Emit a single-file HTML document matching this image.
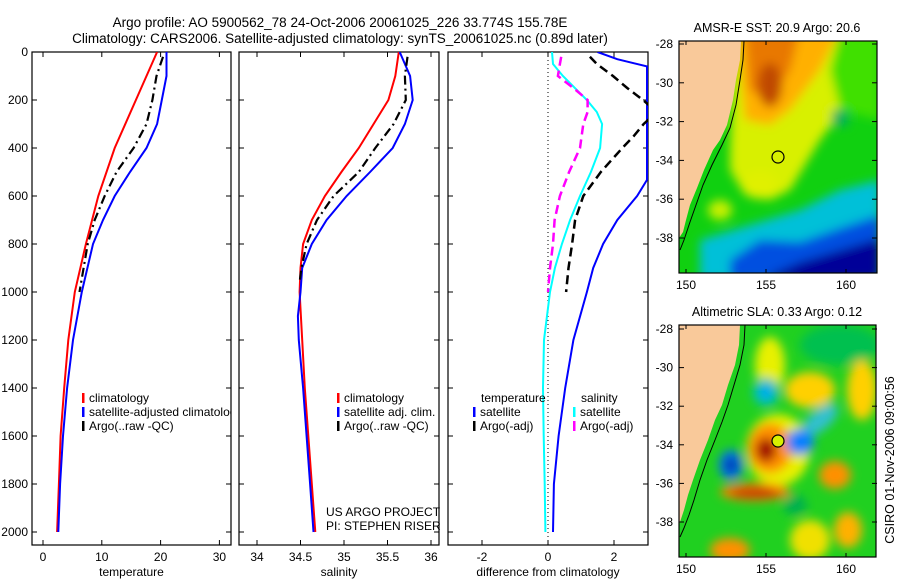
<!DOCTYPE html>
<html><head><meta charset="utf-8"><style>
html,body{margin:0;padding:0;background:#fff;}
svg{display:block;font-family:"Liberation Sans",sans-serif;}
</style></head><body>
<svg id="fig" width="900" height="580" viewBox="0 0 900 580" xmlns="http://www.w3.org/2000/svg">
<defs>
<clipPath id="c1"><rect x="32" y="52" width="199" height="493"/></clipPath>
<clipPath id="c2"><rect x="239" y="52" width="200" height="493"/></clipPath>
<clipPath id="c3"><rect x="448" y="52" width="200" height="493"/></clipPath>
<clipPath id="m1"><rect x="679" y="41" width="198" height="232"/></clipPath>
<clipPath id="m2"><rect x="679" y="325" width="197" height="232"/></clipPath>
<filter id="bl" x="-20%" y="-20%" width="140%" height="140%"><feGaussianBlur stdDeviation="5"/></filter>
</defs>
<text x="340" y="27" font-size="13.5" text-anchor="middle">Argo profile: AO 5900562_78 24-Oct-2006 20061025_226 33.774S 155.78E</text>
<text x="340" y="43" font-size="13.5" text-anchor="middle">Climatology: CARS2006. Satellite-adjusted climatology: synTS_20061025.nc (0.89d later)</text>

<!-- Map 1 -->
<g>
<g clip-path="url(#m1)">
<rect x="679" y="41" width="198" height="232" fill="#10d010"/>
<g filter="url(#bl)">
<polygon points="735,30 880,30 880,60 850,100 820,140 790,190 770,200 745,195 730,170 730,150" fill="#d8f000"/>
<polygon points="735,30 840,30 820,70 790,110 770,125 745,120" fill="#ffb000"/>
<polygon points="745,30 800,30 790,70 770,100 750,90" fill="#e87800"/>
<ellipse cx="770" cy="85" rx="12" ry="22" fill="#c04800"/>
<polygon points="840,30 880,30 880,120 840,110 830,70" fill="#40e000"/>
<ellipse cx="760" cy="185" rx="18" ry="14" fill="#e0f000"/>
<ellipse cx="720" cy="210" rx="12" ry="10" fill="#c8f000"/>
<polygon points="700,240 760,222 800,210 840,190 880,180 880,280 700,280" fill="#00c0d8"/>
<polygon points="730,260 760,240 800,242 840,228 880,215 880,280 730,280" fill="#0050e0"/>
<polygon points="770,275 800,262 840,250 880,238 880,280 770,280" fill="#000098"/>
<rect x="832" y="110" width="16" height="16" fill="#00b060"/>
</g>
</g>
<polygon points="679,41 741,41 740,60 736,80 733,100 727,125 720,140 713,150 704,170 697,188 690,205 686,220 683,232 679,238" fill="#f9c99a" clip-path="url(#m1)"/>
<polyline points="744,41 743,60 740,80 736,105 730,128 722,145 712,165 703,185 696,205 690,222 684,240 680,250" fill="none" stroke="#000" stroke-width="1" clip-path="url(#m1)"/>
<circle cx="778" cy="157" r="6" fill="none" stroke="#000" stroke-width="1.2"/>
<rect x="679" y="41" width="198" height="232" fill="none" stroke="#000" stroke-width="1.2"/>
<text x="777" y="32" font-size="12.5" text-anchor="middle">AMSR-E SST: 20.9 Argo: 20.6</text>
</g>

<!-- Map 2 -->
<g>
<g clip-path="url(#m2)">
<rect x="679" y="325" width="197" height="232" fill="#20d020"/>
<g filter="url(#bl)">
<ellipse cx="840" cy="345" rx="40" ry="20" fill="#00c050"/>
<ellipse cx="770" cy="365" rx="15" ry="28" fill="#e8f000"/>
<ellipse cx="810" cy="390" rx="25" ry="18" fill="#ffd000"/>
<ellipse cx="862" cy="390" rx="15" ry="30" fill="#ffd000"/>
<ellipse cx="778" cy="450" rx="32" ry="36" fill="#e8f000"/>
<ellipse cx="770" cy="448" rx="22" ry="25" fill="#ff9000"/>
<ellipse cx="766" cy="450" rx="10" ry="12" fill="#a00000"/>
<ellipse cx="766" cy="392" rx="13" ry="14" fill="#00c0c0"/>
<ellipse cx="766" cy="392" rx="5" ry="6" fill="#00a0ff"/>
<ellipse cx="820" cy="420" rx="22" ry="10" fill="#30c0d0" transform="rotate(-40 820 420)"/>
<ellipse cx="800" cy="442" rx="14" ry="13" fill="#0080ff"/>
<ellipse cx="731" cy="465" rx="12" ry="15" fill="#0070f0"/>
<ellipse cx="731" cy="465" rx="5" ry="7" fill="#002090"/>
<ellipse cx="755" cy="492" rx="35" ry="9" fill="#ff8000"/>
<ellipse cx="755" cy="493" rx="25" ry="5" fill="#c03000"/>
<ellipse cx="835" cy="475" rx="16" ry="14" fill="#ff9000"/>
<ellipse cx="810" cy="540" rx="20" ry="20" fill="#f0e000"/>
<ellipse cx="848" cy="530" rx="14" ry="18" fill="#ffb000"/>
<ellipse cx="730" cy="550" rx="20" ry="12" fill="#ff9000"/>
<ellipse cx="795" cy="505" rx="12" ry="10" fill="#00b050"/>
</g>
</g>
<polygon points="679,325 740,325 739,345 735,365 728,385 722,405 715,420 708,440 700,460 693,480 688,495 684,510 679,525" fill="#f9c99a" clip-path="url(#m2)"/>
<polyline points="745,325 744,345 740,365 734,385 728,405 722,422 715,440 707,460 700,480 694,500 689,515 684,528 680,537" fill="none" stroke="#000" stroke-width="1" clip-path="url(#m2)"/>
<circle cx="778" cy="441" r="6" fill="#d8f000" stroke="#000" stroke-width="1.2"/>
<rect x="679" y="325" width="197" height="232" fill="none" stroke="#000" stroke-width="1.2"/>
<text x="777" y="316" font-size="12.5" text-anchor="middle">Altimetric SLA: 0.33 Argo: 0.12</text>
</g>
<text transform="translate(894 460) rotate(-90)" font-size="12.5" text-anchor="middle">CSIRO 01-Nov-2006 09:00:56</text>
<g id="axes"></g>
</svg>
<script>
// ---- data ----
var depthTicks = [0,200,400,600,800,1000,1200,1400,1600,1800,2000];
var tempTicks = [0,10,20,30];
var salTicks = [34,34.5,35,35.5,36];
var salTickLabels = ["34","34.5","35","35.5","36"];
var diffTicks = [-2,0,2];
var latTicks = [-28,-30,-32,-34,-36,-38];
var lonTicks = [150,155,160];

var tClimDepth = [0,50,200,400,600,800,1000,1200,1400,1600,1800,2000];
var tClimVal   = [19.4,18.5,15.8,12.2,9.4,7.3,5.4,4.3,3.6,3.0,2.7,2.4];
var tSatDepth  = [0,100,200,300,400,500,600,700,800,1000,1200,1400,1600,1800,2000];
var tSatVal    = [21.0,21.0,20.2,19.4,17.6,14.8,12.2,10.2,8.5,6.6,5.1,4.1,3.4,2.9,2.6];
var tArgoDepth = [20,100,200,300,400,500,600,700,800,900,1000];
var tArgoVal   = [20.4,19.3,18.6,17.6,15.4,12.5,10.5,8.8,7.6,6.9,6.2];

var sClimDepth = [0,100,200,300,400,500,600,700,800,900,1000,1200,1400,1600,1800,2000];
var sClimVal   = [35.63,35.59,35.51,35.34,35.17,34.97,34.78,34.63,34.53,34.50,34.49,34.52,34.55,34.59,34.63,34.67];
var sSatDepth  = [0,100,200,300,400,500,600,700,800,900,1000,1100,1200,1400,1600,1800,2000];
var sSatVal    = [35.64,35.76,35.79,35.70,35.56,35.30,35.03,34.80,34.63,34.52,34.50,34.47,34.48,34.53,34.57,34.61,34.65];
var sArgoDepth = [20,100,200,300,400,500,600,700,800,900,960];
var sArgoVal   = [35.73,35.70,35.71,35.57,35.36,35.17,34.88,34.69,34.57,34.51,34.49];

var dTSatDepth = [0,30,60,533,600,700,800,900,1000,1200,1400,1600,1800,2000];
var dTSatVal   = [1.5,2.1,3.0,3.0,2.7,2.1,1.67,1.37,1.18,0.77,0.52,0.32,0.18,0.15];
var dTArgoDepth = [20,50,100,150,200,250,300,350,400,500,600,700,800,900,1000];
var dTArgoVal   = [1.27,1.48,1.97,2.4,2.88,3.3,2.9,2.6,2.25,1.6,1.07,0.82,0.73,0.62,0.55];
var dSSatDepth = [0,50,100,200,250,300,400,500,600,700,800,900,1000,1200,1400,1600,1800,2000];
var dSSatVal   = [0.12,0.15,0.45,1.18,1.48,1.64,1.58,1.3,0.97,0.67,0.42,0.21,0.06,-0.12,-0.15,-0.13,-0.1,-0.08];
var dSArgoDepth = [20,50,100,150,200,250,300,400,500,600,700,800,900,1000];
var dSArgoVal   = [0.4,0.36,0.3,0.77,1.2,1.2,1.07,0.97,0.64,0.36,0.2,0.15,0.06,0.0];

// ---- scales ----
function yD(d){return 52 + d*0.24;}
function xT(v){return 43 + v*5.88;}
function xS(v){return 257 + (v-34)*87;}
function xDf(v){return 548 + v*33;}
function yLat(l){return 44 + (-28 - l)*19.4;}
function yLat2(l){return 329 + (-28 - l)*19.3;}
function xLon(l){return 686 + (l-150)*16;}

var NS="http://www.w3.org/2000/svg";
var root=document.getElementById('axes');
function mk(tag,attrs,parent){var e=document.createElementNS(NS,tag);for(var k in attrs)e.setAttribute(k,attrs[k]);(parent||root).appendChild(e);return e;}
function txt(x,y,s,anchor,size){var t=mk('text',{x:x,y:y,'font-size':size||12,'text-anchor':anchor||'middle'});t.textContent=s;return t;}

function panel(x0,x1,name,xs,ticks,labels,title){
  var r=mk('rect',{x:x0,y:52,width:x1-x0,height:493,fill:'none',stroke:'#000','stroke-width':1.2});
  
  
  depthTicks.forEach(function(d){
    mk('line',{x1:x0,x2:x0+5,y1:yD(d),y2:yD(d),stroke:'#000'});
    mk('line',{x1:x1-5,x2:x1,y1:yD(d),y2:yD(d),stroke:'#000'});
  });
  ticks.forEach(function(v,i){
    var x=xs(v);
    mk('line',{x1:x,x2:x,y1:52,y2:57,stroke:'#000'});
    mk('line',{x1:x,x2:x,y1:540,y2:545,stroke:'#000'});
    var t=txt(x,561,labels[i]);
    
    
  });
  var tt=txt((x0+x1)/2,576,title);
  
  
}
panel(32,231,'temperature-panel',xT,tempTicks,tempTicks.map(String),'temperature');
panel(239,439,'salinity-panel',xS,salTicks,salTickLabels,'salinity');
panel(448,648,'difference-panel',xDf,diffTicks,diffTicks.map(String),'difference from climatology');
depthTicks.forEach(function(d){
  var t=txt(28,yD(d)+4,String(d),'end');
  
  
});
var zl=mk('line',{x1:xDf(0),x2:xDf(0),y1:52,y2:545,stroke:'#000','stroke-dasharray':'1 3'});



function series(depths,vals,xs,color,clip,name,dash,w){
  var pts=depths.map(function(d,i){return xs(vals[i]).toFixed(1)+','+yD(d).toFixed(1);}).join(' ');
  var a={points:pts,fill:'none',stroke:color,'stroke-width':w||2,'clip-path':'url(#'+clip+')'};
  if(dash)a['stroke-dasharray']=dash;
  var p=mk('polyline',a);
  
  
}
series(tClimDepth,tClimVal,xT,'#ff0000','c1','temperature-climatology-line');
series(tSatDepth,tSatVal,xT,'#0000ff','c1','temperature-satellite-line');
series(tArgoDepth,tArgoVal,xT,'#000','c1','temperature-argo-line','9 4 2 4',2.2);
series(sClimDepth,sClimVal,xS,'#ff0000','c2','salinity-climatology-line');
series(sSatDepth,sSatVal,xS,'#0000ff','c2','salinity-satellite-line');
series(sArgoDepth,sArgoVal,xS,'#000','c2','salinity-argo-line','9 4 2 4',2.2);
series(dSSatDepth,dSSatVal,xDf,'#00ffff','c3','salinity-diff-satellite-line');
series(dSArgoDepth,dSArgoVal,xDf,'#ff00ff','c3','salinity-diff-argo-line','9 5',2.5);
series(dTSatDepth,dTSatVal,xDf,'#0000ff','c3','temperature-diff-satellite-line');
series(dTArgoDepth,dTArgoVal,xDf,'#000','c3','temperature-diff-argo-line','9 5',2.5);

function legend(x,y,color,label,clip,name){
  var g=mk('g',{'clip-path':'url(#'+clip+')'});
  
  
  mk('rect',{x:x,y:y-9,width:2.5,height:10,fill:color},g);
  var t=mk('text',{x:x+7,y:y,'font-size':12},g);t.textContent=label;
}
legend(82,402,'#ff0000','climatology','c1','legend-climatology');
legend(82,416,'#0000ff','satellite-adjusted climatology','c1','legend-satellite-adjusted');
legend(82,430,'#000','Argo(..raw -QC)','c1','legend-argo');
legend(337,402,'#ff0000','climatology','c2','legend-sal-climatology');
legend(337,416,'#0000ff','satellite adj. clim.','c2','legend-sal-satellite');
legend(337,430,'#000','Argo(..raw -QC)','c2','legend-sal-argo');
var lt=txt(481,402,'temperature','start');


var ls=txt(581,402,'salinity','start');


legend(473,416,'#0000ff','satellite','c3','legend-diff-temp-satellite');
legend(473,430,'#000','Argo(-adj)','c3','legend-diff-temp-argo');
legend(573,416,'#00ffff','satellite','c3','legend-diff-sal-satellite');
legend(573,430,'#ff00ff','Argo(-adj)','c3','legend-diff-sal-argo');
var u1=txt(326,516,'US ARGO PROJECT','start');


var u2=txt(326,530,'PI: STEPHEN RISER','start');



function mapAxes(y0,y1,yl,name){
  latTicks.forEach(function(l){
    var y=yl(l);
    mk('line',{x1:679,x2:684,y1:y,y2:y,stroke:'#000'});
    mk('line',{x1:872,x2:877,y1:y,y2:y,stroke:'#000'});
    var t=txt(673,y+4,String(l),'end');
    
    
  });
  lonTicks.forEach(function(l){
    var x=xLon(l);
    mk('line',{x1:x,x2:x,y1:y0,y2:y0+4,stroke:'#000'});
    mk('line',{x1:x,x2:x,y1:y1-4,y2:y1,stroke:'#000'});
    var t=txt(x,y1+16,String(l));
    
    
  });
}
mapAxes(41,273,yLat,'sst-map');
mapAxes(325,557,yLat2,'sla-map');
</script>
</body></html>
